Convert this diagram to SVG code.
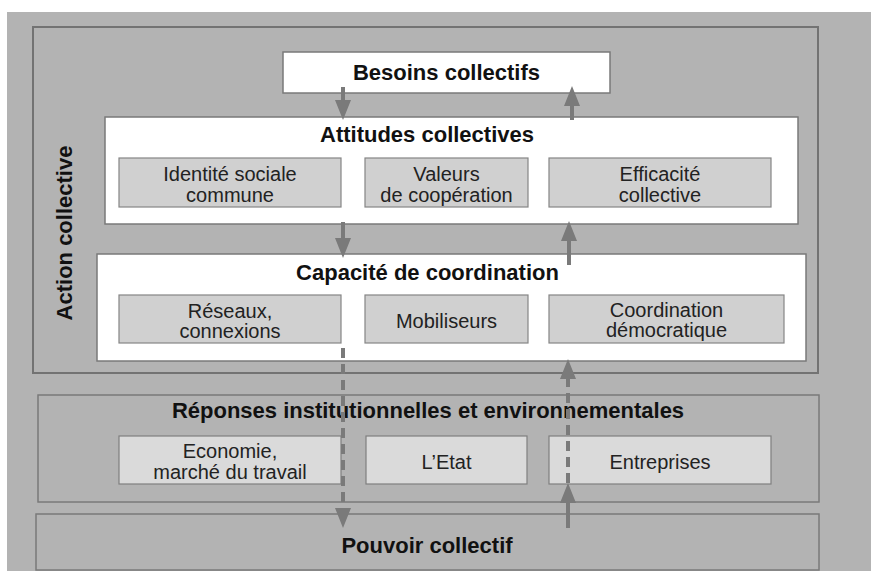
<svg xmlns="http://www.w3.org/2000/svg" width="871" height="571" viewBox="0 0 871 571">
<style>
  .bg{fill:#b3b3b3}
  .frame{fill:#b3b3b3;stroke:#737373;stroke-width:2}
  .white{fill:#ffffff;stroke:#7a7a7a;stroke-width:1.5}
  .sub{fill:#d0d0d0;stroke:#858585;stroke-width:1.2}
  .sub2{fill:#dadada;stroke:#7f7f7f;stroke-width:1.2}
  .title{font-family:"Liberation Sans",Arial,sans-serif;font-weight:bold;font-size:22px;fill:#111;text-anchor:middle}
  .lbl{font-family:"Liberation Sans",Arial,sans-serif;font-size:20px;fill:#222;text-anchor:middle}
  .arrow{stroke:#7a7a7a;stroke-width:4;fill:none}
  .dash{stroke-dasharray:10 6}
</style>
<defs>
  <marker id="head" viewBox="0 0 20 16" refX="0" refY="8" markerWidth="20" markerHeight="16" markerUnits="userSpaceOnUse" orient="auto">
    <path d="M0,0 L20,8 L0,16 z" fill="#7a7a7a"/>
  </marker>
</defs>
<rect class="bg" x="7" y="12" width="864" height="559"/>

<g id="action-collective">
  <rect class="frame" x="33" y="27" width="785" height="346"/>
  <text class="title" transform="translate(72,233) rotate(-90)">Action collective</text>
</g>

<g id="besoins">
  <rect class="white" x="283" y="52" width="327" height="41"/>
  <text class="title" x="446.5" y="80">Besoins collectifs</text>
</g>

<g id="attitudes">
  <rect class="white" x="105" y="117" width="693" height="107"/>
  <text class="title" x="427" y="142">Attitudes collectives</text>
  <g id="identite">
    <rect class="sub" x="119" y="158" width="222" height="49"/>
    <text class="lbl" x="230" y="181">Identité sociale</text>
    <text class="lbl" x="230" y="202">commune</text>
  </g>
  <g id="valeurs">
    <rect class="sub" x="365" y="158" width="163" height="49"/>
    <text class="lbl" x="446.5" y="181">Valeurs</text>
    <text class="lbl" x="446.5" y="202">de coopération</text>
  </g>
  <g id="efficacite">
    <rect class="sub" x="549" y="158" width="222" height="49"/>
    <text class="lbl" x="660" y="181">Efficacité</text>
    <text class="lbl" x="660" y="202">collective</text>
  </g>
</g>

<g id="capacite">
  <rect class="white" x="97" y="254" width="709" height="107"/>
  <text class="title" x="427.5" y="280">Capacité de coordination</text>
  <g id="reseaux">
    <rect class="sub" x="119" y="295" width="222" height="48"/>
    <text class="lbl" x="230" y="318">Réseaux,</text>
    <text class="lbl" x="230" y="338">connexions</text>
  </g>
  <g id="mobiliseurs">
    <rect class="sub" x="365" y="295" width="163" height="48"/>
    <text class="lbl" x="446.5" y="328">Mobiliseurs</text>
  </g>
  <g id="coordination">
    <rect class="sub" x="549" y="295" width="235" height="48"/>
    <text class="lbl" x="666.5" y="317">Coordination</text>
    <text class="lbl" x="666.5" y="337">démocratique</text>
  </g>
</g>

<g id="reponses">
  <rect class="frame" x="38" y="395" width="781" height="107" style="stroke-width:1.5;stroke:#7a7a7a"/>
  <text class="title" x="428" y="418">Réponses institutionnelles et environnementales</text>
  <g id="economie">
    <rect class="sub2" x="119" y="436" width="222" height="48"/>
    <text class="lbl" x="230" y="458">Economie,</text>
    <text class="lbl" x="230" y="479">marché du travail</text>
  </g>
  <g id="etat">
    <rect class="sub2" x="366" y="436" width="161" height="48"/>
    <text class="lbl" x="446.5" y="469">L’Etat</text>
  </g>
  <g id="entreprises">
    <rect class="sub2" x="549" y="436" width="222" height="48"/>
    <text class="lbl" x="660" y="469">Entreprises</text>
  </g>
</g>

<g id="pouvoir">
  <rect class="frame" x="36" y="514" width="783" height="56" style="stroke-width:1.5;stroke:#7a7a7a"/>
  <text class="title" x="427" y="553">Pouvoir collectif</text>
</g>

<g id="connectors">
  <path class="arrow" d="M343,87 V100" marker-end="url(#head)"/>
  <path class="arrow" d="M572,120 V106" marker-end="url(#head)"/>
  <path class="arrow" d="M343,222 V238" marker-end="url(#head)"/>
  <path class="arrow" d="M569,265 V241" marker-end="url(#head)"/>
  <path class="arrow dash" d="M343,348 V508" marker-end="url(#head)"/>
  <path class="arrow" d="M568,528 V503" marker-end="url(#head)"/>
  <path class="arrow dash" d="M568,483 V379" marker-end="url(#head)"/>
</g>
</svg>
